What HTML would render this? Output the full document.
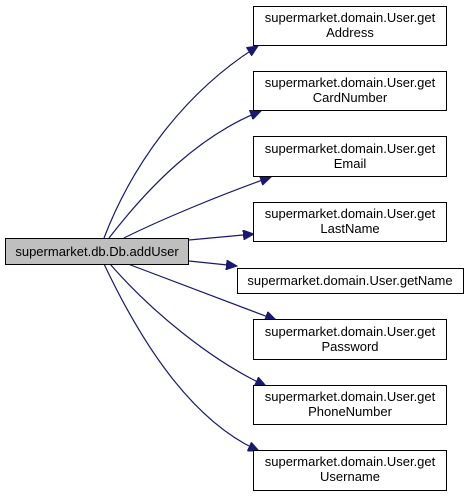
<!DOCTYPE html>
<html><head><style>
html,body{margin:0;padding:0;background:#fff;}
svg text{font-family:"Liberation Sans",Arial,sans-serif;font-size:13px;fill:#000;}
</style></head><body>
<svg width="469" height="496" viewBox="0 0 469 496" xmlns="http://www.w3.org/2000/svg">
<defs>
<marker id="a" markerUnits="userSpaceOnUse" markerWidth="12" markerHeight="10" refX="11" refY="5" orient="auto">
<polygon points="0,0 11,5 0,10" fill="#191970" stroke="#191970"/>
</marker>
</defs>
<g fill="none" stroke="#191970" stroke-width="1.2" marker-end="url(#a)">
<path d="M104,238 C130,170 180,95 258,46"/>
<path d="M109,238 C150,185 200,135 261,111"/>
<path d="M124,238 C160,220 220,195 271,177"/>
<path d="M189,240 L254,234"/>
<path d="M189,261 L237,266"/>
<path d="M128,264 L276,320"/>
<path d="M110,264 C150,310 210,360 266,386"/>
<path d="M104,264 C140,340 190,420 259,451"/>
</g>
<g stroke="#000" stroke-width="1" fill="#fff">
<rect x="5.5" y="238.5" width="183" height="26" fill="#bfbfbf"/>
<rect x="253.5" y="6.5" width="193" height="39"/>
<rect x="253.5" y="71.5" width="193" height="39"/>
<rect x="253.5" y="136.5" width="193" height="40"/>
<rect x="253.5" y="202.5" width="193" height="39"/>
<rect x="237.5" y="268.5" width="226" height="25"/>
<rect x="253.5" y="319.5" width="193" height="40"/>
<rect x="253.5" y="385.5" width="193" height="39"/>
<rect x="253.5" y="450.5" width="193" height="40"/>
</g>
<g text-anchor="middle">
<text x="97" y="256">supermarket.db.Db.addUser</text>
<text x="350" y="22">supermarket.domain.User.get</text><text x="350" y="37">Address</text>
<text x="350" y="87">supermarket.domain.User.get</text><text x="350" y="102">CardNumber</text>
<text x="350" y="153">supermarket.domain.User.get</text><text x="350" y="168">Email</text>
<text x="350" y="218">supermarket.domain.User.get</text><text x="350" y="233">LastName</text>
<text x="350" y="285">supermarket.domain.User.getName</text>
<text x="350" y="336">supermarket.domain.User.get</text><text x="350" y="351">Password</text>
<text x="350" y="401">supermarket.domain.User.get</text><text x="350" y="416">PhoneNumber</text>
<text x="350" y="466">supermarket.domain.User.get</text><text x="350" y="481">Username</text>
</g>
</svg>
</body></html>
